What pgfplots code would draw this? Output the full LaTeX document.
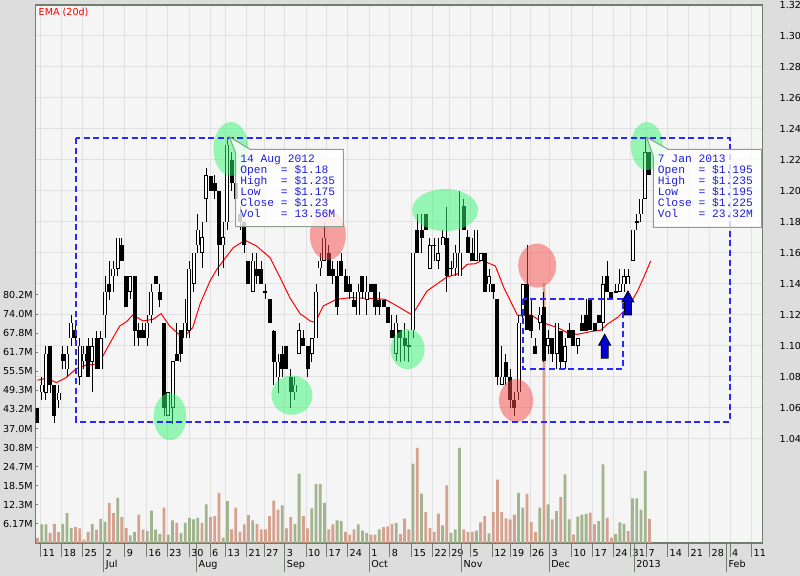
\documentclass[border=0pt]{standalone}
\usepackage{pgfplots}
\pgfplotsset{compat=1.18}
\usepackage{pgfplotstable}
\usepackage{fontspec}
\setmainfont{DejaVu Sans}
\newfontfamily\monofont{Liberation Mono}
\definecolor{outerbg}{RGB}{221,221,221}
\definecolor{plotbg}{RGB}{245,245,245}
\definecolor{gridc}{RGB}{224,224,224}
\definecolor{framec}{RGB}{112,126,112}
\definecolor{volg}{RGB}{162,180,142}
\definecolor{volr}{RGB}{212,162,142}
\definecolor{boxblue}{RGB}{40,40,255}
\definecolor{hlgreen}{RGB}{55,245,115}
\definecolor{hlred}{RGB}{245,75,75}
\definecolor{tipblue}{RGB}{30,30,220}
\definecolor{tipborder}{RGB}{140,160,140}
\definecolor{arrowblue}{RGB}{0,0,210}

\pgfplotstableread{
k o h l c v vu
0 1.06 1.06 1.05 1.05 1.6 0
1 1.07 1.08 1.065 1.075 6.0 1
2 1.07 1.10 1.065 1.095 6.0 1
3 1.10 1.10 1.07 1.075 3.3 0
4 1.075 1.075 1.05 1.055 6.2 0
5 1.065 1.075 1.06 1.07 3.6 0
6 1.095 1.10 1.085 1.09 6.2 1
7 1.085 1.10 1.08 1.095 9.7 1
8 1.105 1.12 1.10 1.115 4.9 1
9 1.11 1.115 1.10 1.105 5.2 0
10 1.08 1.105 1.075 1.10 4.7 0
11 1.09 1.10 1.085 1.095 1.1 0
12 1.10 1.105 1.08 1.08 3.6 0
13 1.09 1.105 1.07 1.10 6.2 1
14 1.105 1.11 1.085 1.085 4.3 0
15 1.085 1.11 1.085 1.105 7.8 1
16 1.12 1.145 1.105 1.135 6.8 1
17 1.14 1.155 1.13 1.135 13.0 0
18 1.145 1.155 1.135 1.15 9.7 0
19 1.15 1.17 1.145 1.17 14.6 1
20 1.165 1.17 1.155 1.155 8.4 0
21 1.145 1.145 1.125 1.125 4.9 0
22 1.135 1.145 1.13 1.145 2.5 1
23 1.145 1.145 1.10 1.11 3.6 1
24 1.11 1.115 1.10 1.105 9.2 0
25 1.11 1.115 1.105 1.105 4.3 0
26 1.105 1.12 1.10 1.115 3.8 1
27 1.12 1.14 1.115 1.135 10.5 1
28 1.145 1.145 1.14 1.14 4.3 1
29 1.135 1.14 1.125 1.13 2.9 1
30 1.115 1.115 1.055 1.06 11.4 0
31 1.055 1.07 1.055 1.07 2.7 1
32 1.06 1.09 1.05 1.09 7.3 1
33 1.095 1.115 1.09 1.09 6.5 0
34 1.11 1.11 1.09 1.095 3.3 1
35 1.105 1.13 1.105 1.115 6.5 1
36 1.11 1.155 1.105 1.15 8.1 1
37 1.14 1.16 1.135 1.16 7.6 1
38 1.165 1.185 1.16 1.175 8.1 1
39 1.16 1.18 1.15 1.17 6.5 0
40 1.195 1.215 1.18 1.21 12.5 1
41 1.21 1.21 1.20 1.20 8.4 0
42 1.205 1.21 1.195 1.20 8.7 0
43 1.20 1.20 1.145 1.165 16.2 0
44 1.165 1.18 1.15 1.17 1.7 1
45 1.18 1.235 1.175 1.23 13.56 1
46 1.22 1.225 1.20 1.205 4.4 0
47 1.205 1.21 1.19 1.195 11.4 0
48 1.185 1.19 1.175 1.18 3.6 0
49 1.18 1.18 1.16 1.165 6.0 0
50 1.155 1.155 1.14 1.14 9.0 0
51 1.135 1.16 1.135 1.155 7.3 1
52 1.15 1.16 1.14 1.145 6.2 0
53 1.15 1.155 1.14 1.14 4.4 0
54 1.135 1.14 1.13 1.135 4.4 0
55 1.13 1.13 1.115 1.115 8.7 0
56 1.11 1.11 1.075 1.09 13.7 0
57 1.08 1.095 1.07 1.09 10.8 0
58 1.095 1.10 1.08 1.085 12.2 1
59 1.10 1.10 1.085 1.085 4.7 0
60 1.08 1.085 1.06 1.07 8.4 0
61 1.07 1.08 1.065 1.075 6.2 1
62 1.095 1.115 1.095 1.11 22.4 1
63 1.105 1.11 1.10 1.10 8.7 0
64 1.10 1.10 1.08 1.085 4.7 0
65 1.095 1.105 1.09 1.105 11.2 1
66 1.105 1.14 1.105 1.135 19.1 1
67 1.15 1.16 1.145 1.155 19.1 1
68 1.155 1.18 1.155 1.17 13.0 1
69 1.16 1.165 1.145 1.145 4.4 0
70 1.15 1.155 1.14 1.145 6.0 0
71 1.145 1.155 1.12 1.125 7.3 1
72 1.155 1.16 1.145 1.145 7.1 1
73 1.145 1.15 1.135 1.135 3.6 0
74 1.14 1.145 1.13 1.135 2.7 0
75 1.13 1.135 1.125 1.125 4.4 0
76 1.12 1.14 1.12 1.135 6.0 1
77 1.145 1.145 1.13 1.135 4.0 1
78 1.13 1.145 1.12 1.135 3.3 1
79 1.14 1.14 1.135 1.135 2.7 0
80 1.14 1.14 1.12 1.125 2.7 0
81 1.13 1.135 1.12 1.125 4.4 1
82 1.13 1.13 1.125 1.125 5.1 0
83 1.125 1.125 1.115 1.115 5.4 0
84 1.11 1.12 1.105 1.105 6.2 0
85 1.095 1.12 1.09 1.115 6.5 1
86 1.11 1.11 1.09 1.105 2.9 0
87 1.105 1.115 1.09 1.10 7.9 0
88 1.10 1.11 1.09 1.10 4.4 0
89 1.11 1.16 1.105 1.16 25.7 1
90 1.175 1.185 1.16 1.16 30.8 0
91 1.175 1.185 1.16 1.17 16.0 1
92 1.185 1.185 1.175 1.175 10.0 0
93 1.15 1.17 1.15 1.165 4.9 0
94 1.165 1.17 1.155 1.165 3.6 0
95 1.155 1.17 1.15 1.16 9.5 0
96 1.165 1.175 1.165 1.17 5.7 1
97 1.17 1.19 1.135 1.145 18.6 0
98 1.15 1.155 1.145 1.15 3.3 1
99 1.15 1.165 1.145 1.16 4.4 1
100 1.145 1.20 1.145 1.16 30.8 1
101 1.19 1.195 1.175 1.175 4.4 0
102 1.17 1.175 1.16 1.16 3.6 0
103 1.16 1.17 1.155 1.155 3.6 0
104 1.155 1.175 1.155 1.175 4.0 1
105 1.155 1.16 1.155 1.16 6.7 0
106 1.16 1.16 1.135 1.135 8.7 0
107 1.14 1.15 1.135 1.145 3.1 1
108 1.14 1.14 1.13 1.135 10.0 0
109 1.13 1.13 1.075 1.08 20.5 0
110 1.075 1.10 1.075 1.08 10.0 0
111 1.09 1.095 1.075 1.08 8.0 0
112 1.08 1.085 1.06 1.065 7.6 0
113 1.065 1.07 1.055 1.06 9.2 0
114 1.07 1.12 1.065 1.115 16.2 1
115 1.12 1.14 1.115 1.14 11.4 1
116 1.14 1.165 1.11 1.11 15.9 0
117 1.12 1.13 1.105 1.11 6.8 0
118 1.10 1.105 1.095 1.095 3.6 0
119 1.115 1.125 1.11 1.12 11.4 1
120 1.125 1.135 1.09 1.09 84.0 0
121 1.10 1.11 1.095 1.105 12.5 1
122 1.105 1.105 1.09 1.095 7.6 0
123 1.095 1.115 1.085 1.115 10.3 1
124 1.11 1.11 1.085 1.09 14.8 0
125 1.09 1.105 1.085 1.10 22.2 1
126 1.11 1.115 1.105 1.105 7.6 1
127 1.11 1.11 1.10 1.10 2.7 0
128 1.10 1.105 1.095 1.105 8.5 1
129 1.115 1.12 1.11 1.11 9.2 1
130 1.12 1.13 1.11 1.11 9.4 1
131 1.13 1.13 1.11 1.11 9.8 0
132 1.115 1.115 1.11 1.11 6.0 0
133 1.12 1.12 1.115 1.115 7.1 1
134 1.115 1.145 1.11 1.14 25.4 1
135 1.145 1.155 1.135 1.135 8.1 0
136 1.135 1.135 1.13 1.13 1.7 0
137 1.135 1.14 1.135 1.135 2.9 1
138 1.135 1.15 1.135 1.14 6.7 1
139 1.14 1.15 1.135 1.145 6.2 1
140 1.14 1.15 1.14 1.145 3.8 0
141 1.155 1.175 1.155 1.175 14.4 1
142 1.18 1.185 1.175 1.18 14.4 1
143 1.185 1.195 1.18 1.195 10.8 1
144 1.195 1.235 1.195 1.225 23.32 1
145 1.225 1.225 1.21 1.21 7.8 0
}\ohlc

\pgfplotsset{
  chartbase/.style={
    at={(17.75pt,-271.5pt)}, anchor=south west,
    scale only axis, width=363.4pt, height=269pt,
    xmin=-0.47, xmax=171.75,
  },
  tickfont/.style={font=\fontsize{4.8}{5.5}\selectfont},
  candle/.style={draw=none, no markers, forget plot,
    error bars/y dir=both, error bars/y explicit, error bars/error mark=none},
}

\begin{document}
\begin{tikzpicture}
\path[use as bounding box, fill=outerbg] (0,0) rectangle (400pt,-288pt);

% ---------- frame, grid and axes ----------
\begin{axis}[chartbase,
  ymin=0.9729, ymax=1.32,
  axis background/.style={fill=plotbg},
  axis line style={framec, line width=0.6pt},
  grid=major, grid style={gridc, line width=0.5pt},
  xtick={0.76,5.73,10.71,15.76,20.73,25.88,30.76,35.97,40.88,44.6,49.57,53.74,58.65,63.63,68.53,73.51,78.63,83.53,88.67,93.65,97.58,102.65,107.77,111.97,116.71,121.37,126.59,131.56,136.45,140.57,144.36,149.34,154.31,159.29,164.1,169.24},
  xticklabels={11,18,25,2,9,16,23,30,6,13,21,27,3,10,17,24,1,8,15,22,29,5,12,19,26,3,10,17,24,31,7,14,21,28,4,11},
  xtick pos=left,
  tick align=outside,
  major tick length=7pt,
  x tick style={framec, line width=0.5pt},
  xticklabel style={tickfont, anchor=north west, inner sep=0pt, xshift=0.8pt, yshift=4pt},
  extra x ticks={15.76,37.73,58.65,78.63,100.52,121.28,141.42,163.32},
  extra x tick labels={Jul,Aug,Sep,Oct,Nov,Dec,2013,Feb},
  extra x tick style={grid=none, major tick length=14.5pt,
    tick label style={yshift=2pt}},
  ytick={1.04,1.06,1.08,1.10,1.12,1.14,1.16,1.18,1.20,1.22,1.24,1.26,1.28,1.30,1.32},
  yticklabels={1.04,1.06,1.08,1.10,1.12,1.14,1.16,1.18,1.20,1.22,1.24,1.26,1.28,1.30,1.32},
  ytick pos=right,
  y tick style={draw=none},
  yticklabel style={tickfont, anchor=west, inner sep=0pt, xshift=1.5pt},
]
\addplot[draw=none] coordinates {(0,1.1)};
\end{axis}

% ---------- volume ----------
\begin{axis}[chartbase,
  ymin=0, ymax=174.0,
  axis line style={draw=none},
  xtick=\empty,
  ytick={6.17,12.34,18.51,24.68,30.85,37.02,43.19,49.36,55.53,61.7,67.87,74.04,80.21},
  yticklabels={6.17M,12.3M,18.5M,24.7M,30.8M,37.0M,43.2M,49.3M,55.5M,61.7M,67.8M,74.0M,80.2M},
  ytick pos=left, tick align=inside,
  major tick length=1.5pt,
  y tick style={framec, line width=0.5pt},
  yticklabel style={tickfont, anchor=east, inner sep=0pt, xshift=-1.2pt},
]
\addplot[ybar, bar width=1.4pt, bar shift=0pt, fill=volg, draw=none,
  restrict expr to domain={\thisrow{vu}}{0.5:1.5}] table[x=k, y=v]{\ohlc};
\addplot[ybar, bar width=1.4pt, bar shift=0pt, fill=volr, draw=none,
  restrict expr to domain={\thisrow{vu}}{-0.5:0.5}] table[x=k, y=v]{\ohlc};
\end{axis}

% ---------- price ----------
\begin{axis}[chartbase, ymin=0.9729, ymax=1.32, hide axis]
% EMA (20d)
\addplot[red, line width=0.5pt, mark=none] coordinates {
(0,1.0779) (2.1,1.0792) (4.5,1.0764) (6.8,1.0796) (9.2,1.0854) (11.6,1.0878)
(13.9,1.0882) (15.5,1.0936) (17.9,1.1054) (19.5,1.1129) (21.1,1.1157) (22.6,1.1200)
(25.0,1.1162) (27.4,1.1172) (29.3,1.1209) (31.3,1.1129) (33.7,1.1071) (35.3,1.1075)
(36.8,1.1119) (38.5,1.1270) (40.9,1.1420) (42.5,1.1495) (44.0,1.1549) (46.4,1.1635)
(49.2,1.1682) (51.9,1.1645) (55.1,1.1570) (57.5,1.1441) (59.8,1.1312) (62.2,1.1209)
(64.6,1.1162) (65.8,1.1151) (67.7,1.1258) (70.9,1.1301) (74.1,1.1312) (78.1,1.1308)
(82.4,1.1301) (85.2,1.1258) (88.8,1.1200) (92.3,1.1355) (97.0,1.1445) (99.4,1.1463)
(101.8,1.1527) (103.8,1.1531) (105.3,1.1553) (108.5,1.1516) (110.5,1.1377) (113.7,1.1200)
(114.9,1.1194) (116.9,1.1200) (119.2,1.1162) (120.8,1.1140) (123.2,1.1119) (125.6,1.1086)
(127.9,1.1075) (131.1,1.1093) (133.4,1.1101) (135.0,1.1140) (137.4,1.1183) (139.0,1.1226)
(140.6,1.1280) (142.2,1.1355) (143.8,1.1452) (145.3,1.1549)};
% wicks
\addplot[candle, error bars/error bar style={draw=black, line width=0.5pt}]
  table[x=k, y expr={(\thisrow{h}+\thisrow{l})/2}, y error expr={(\thisrow{h}-\thisrow{l})/2}]{\ohlc};
% bodies (black, outline for hollow ones)
\addplot[candle, error bars/error bar style={draw=black, line width=2pt}]
  table[x=k, y expr={(\thisrow{o}+\thisrow{c})/2}, y error expr={max(abs(\thisrow{c}-\thisrow{o})/2,0.00035)}]{\ohlc};
% hollow (up) bodies
\addplot[candle, restrict expr to domain={\thisrow{c}-\thisrow{o}}{0.001:1},
  error bars/error bar style={draw=white, line width=1pt}]
  table[x=k, y expr={(\thisrow{o}+\thisrow{c})/2}, y error expr={abs(\thisrow{c}-\thisrow{o})/2-0.00032}]{\ohlc};

% highlight ellipses
\fill[hlgreen, opacity=0.5] (axis cs:31.4,1.0544) ellipse [x radius=8.15pt, y radius=11.75pt];
\fill[hlgreen, opacity=0.5] (axis cs:45.85,1.2271) ellipse [x radius=8.75pt, y radius=13.5pt];
\fill[hlred, opacity=0.5] (axis cs:68.8,1.1716) ellipse [x radius=9pt, y radius=12.5pt];
\fill[hlgreen, opacity=0.5] (axis cs:60.3,1.0683) ellipse [x radius=10.25pt, y radius=9.85pt];
\fill[hlgreen, opacity=0.5] (axis cs:87.7,1.0980) ellipse [x radius=8.5pt, y radius=10pt];
\fill[hlgreen, opacity=0.5] (axis cs:96.6,1.1877) ellipse [x radius=16.5pt, y radius=10.5pt];
\fill[hlred, opacity=0.5] (axis cs:113.4,1.0648) ellipse [x radius=8.5pt, y radius=10.75pt];
\fill[hlred, opacity=0.5] (axis cs:118.4,1.1519) ellipse [x radius=9.5pt, y radius=11pt];
\fill[hlgreen, opacity=0.5] (axis cs:144.4,1.2290) ellipse [x radius=8pt, y radius=12pt];

% dashed boxes
\draw[boxblue, line width=0.75pt, dash pattern=on 3pt off 1.8pt]
  (axis cs:9.12,1.2342) rectangle (axis cs:164.1,1.0510);
\draw[boxblue, line width=0.75pt, dash pattern=on 3pt off 1.8pt]
  (axis cs:115.1,1.1303) rectangle (axis cs:138.7,1.0850);

% arrows
\draw[fill=arrowblue, draw=black, line width=0.4pt] (axis cs:134.4,1.1076)
  -- ++(3pt,-5.5pt) -- ++(-1.25pt,0pt) -- ++(0pt,-6.5pt) -- ++(-3.5pt,0pt)
  -- ++(0pt,6.5pt) -- ++(-1.25pt,0pt) -- cycle;
\draw[fill=arrowblue, draw=black, line width=0.4pt] (axis cs:139.9,1.1355)
  -- ++(3pt,-5.5pt) -- ++(-1.25pt,0pt) -- ++(0pt,-6.5pt) -- ++(-3.5pt,0pt)
  -- ++(0pt,6.5pt) -- ++(-1.25pt,0pt) -- cycle;

% tooltips
\begin{scope}[shift={(axis cs:45.45,1.235)}]
\filldraw[fill=white, fill opacity=0.8, draw=tipborder, line width=0.5pt]
  (0pt,0pt) -- (10.35pt,-6.3pt) -- (57pt,-6.3pt) -- (57pt,-45pt) -- (3.2pt,-45pt) -- (3.2pt,-8.15pt) -- cycle;
\node[anchor=north west, inner sep=0pt, align=left, text=tipblue,
  font={\monofont\fontsize{5.65}{5.5}\selectfont}] at (5.3pt,-9pt)
  {14 Aug 2012\\Open\ \ = \$1.18\\High\ \ = \$1.235\\Low\ \ \ = \$1.175\\Close = \$1.23\\Vol\ \ \ = 13.56M};
\end{scope}
\begin{scope}[shift={(axis cs:144.36,1.2346)}]
\filldraw[fill=white, fill opacity=0.8, draw=tipborder, line width=0.5pt]
  (0pt,0pt) -- (10.65pt,-6pt) -- (57.5pt,-6pt) -- (57.5pt,-45pt) -- (3.3pt,-45pt) -- (3.3pt,-9.35pt) -- cycle;
\node[anchor=north west, inner sep=0pt, align=left, text=tipblue,
  font={\monofont\fontsize{5.65}{5.5}\selectfont}] at (5.4pt,-8.7pt)
  {7 Jan 2013\\Open\ \ = \$1.195\\High\ \ = \$1.235\\Low\ \ \ = \$1.195\\Close = \$1.225\\Vol\ \ \ = 23.32M};
\end{scope}
\end{axis}

\node[anchor=west, inner sep=0pt, text=red, font=\fontsize{4.8}{5.5}\selectfont] at (19.15pt,-6.4pt) {EMA (20d)};
\end{tikzpicture}
\end{document}
